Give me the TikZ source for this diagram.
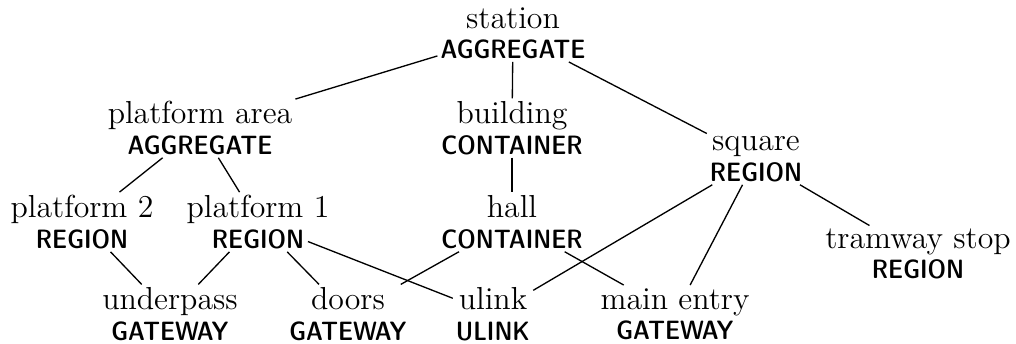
\documentclass[tikz,border=0pt]{standalone}
\newcommand{\kindlabel}[1]{{\fontsize{10}{12}\sffamily\fontseries{sbc}\selectfont #1}}
\tikzset{
  ent/.style={align=center, inner sep=1pt, font=\fontsize{12}{11.5}\selectfont},
  link/.style={line width=0.5pt}
}
\begin{document}
\begin{tikzpicture}[x=0.377pt,y=-0.377pt]
\useasboundingbox (0,0) rectangle (1016,343);
\node[ent] (station) at (513,33) {station\\\kindlabel{AGGREGATE}};
\node[ent] (parea) at (200,128) {platform area\\\kindlabel{AGGREGATE}};
\node[ent] (building) at (512,128) {building\\\kindlabel{CONTAINER}};
\node[ent] (square) at (756,159) {square\\\kindlabel{REGION}};
\node[ent] (p2) at (82,222) {platform 2\\\kindlabel{REGION}};
\node[ent] (p1) at (258,222) {platform 1\\\kindlabel{REGION}};
\node[ent] (hall) at (512,222) {hall\\\kindlabel{CONTAINER}};
\node[ent] (tram) at (918,254) {tramway stop\\\kindlabel{REGION}};
\node[ent] (under) at (170,314) {underpass\\\kindlabel{GATEWAY}};
\node[ent] (doors) at (348,314) {doors\\\kindlabel{GATEWAY}};
\node[ent] (ulink) at (493,314) {ulink\\\kindlabel{ULINK}};
\node[ent] (main) at (675,314) {main entry\\\kindlabel{GATEWAY}};
\draw[link] (station) -- (parea);
\draw[link] (station) -- (building);
\draw[link] (station) -- (square);
\draw[link] (parea) -- (p2);
\draw[link] (parea) -- (p1);
\draw[link] (building) -- (hall);
\draw[link] (square) -- (tram);
\draw[link] (square) -- (ulink);
\draw[link] (square) -- (main);
\draw[link] (p2) -- (under);
\draw[link] (p1) -- (under);
\draw[link] (p1) -- (doors);
\draw[link, shorten <=-10pt] (p1) -- (ulink);
\draw[link] (hall) -- (doors);
\draw[link] (hall) -- (main);
\end{tikzpicture}
\end{document}
